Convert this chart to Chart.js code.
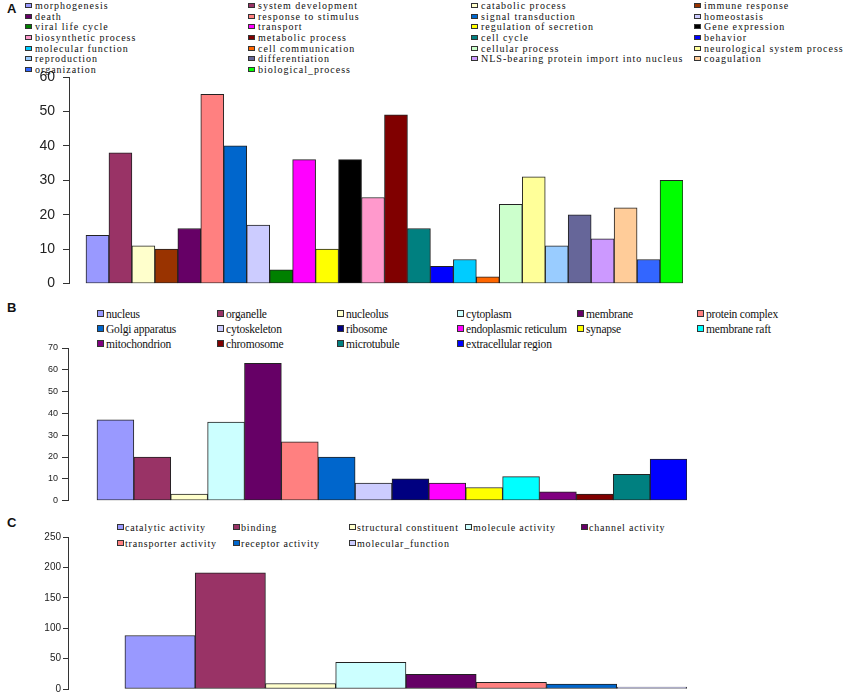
<!DOCTYPE html>
<html>
<head>
<meta charset="utf-8">
<script src="https://cdn.jsdelivr.net/npm/chart.js@4.4.0/dist/chart.umd.min.js"></script>
<style>
  body { margin: 0; width: 852px; height: 697px; overflow: hidden; background: #fff; position: relative; }
  .panel { position: absolute; }
  .letter { position: absolute; left: 7px; font: bold 13px "Liberation Sans", Arial, sans-serif; line-height: 13px; color: #111; }
  .legend { position: absolute; display: grid; color: #111; white-space: nowrap; }
  .legend .item { display: flex; align-items: center; }
  .legend .sw { display: inline-block; box-sizing: border-box; border: 1px solid #333; flex: none; }
  #legA { left: 25px; top: 0px; grid-template-columns: repeat(4, 223px); grid-auto-rows: 10.7px;
          font: 10px "Liberation Serif", serif; letter-spacing: 1px; }
  #legA .sw { width: 7px; height: 5px; margin-right: 3px; }
  #legB { left: 97px; top: 306px; grid-template-columns: repeat(6, 120px); grid-auto-rows: 15px;
          font: 11.5px "Liberation Serif", serif; letter-spacing: -0.2px; }
  #legB .sw { width: 7px; height: 7px; margin-right: 2px; }
  #legC { left: 117px; top: 519px; grid-template-columns: repeat(5, 116px); grid-auto-rows: 16.3px;
          font: 10px "Liberation Serif", serif; letter-spacing: 0.8px; }
  #legC .sw { width: 7px; height: 6px; margin-right: 1px; }
</style>
</head>
<body>
<div class="letter" style="top:2px">A</div>
<div class="letter" style="top:301px">B</div>
<div class="letter" style="top:516px">C</div>

<div id="legA" class="legend"></div>
<div id="legB" class="legend"></div>
<div id="legC" class="legend"></div>

<canvas id="chartA" class="panel" width="700" height="240" style="left:0;top:60px"></canvas>
<canvas id="chartB" class="panel" width="700" height="180" style="left:0;top:330px"></canvas>
<canvas id="chartC" class="panel" width="700" height="177" style="left:0;top:520px"></canvas>

<script>
// A - biological process
const bioLabels = ['morphogenesis', 'system development', 'catabolic process', 'immune response',
  'death', 'response to stimulus', 'signal transduction', 'homeostasis',
  'viral life cycle', 'transport', 'regulation of secretion', 'Gene expression',
  'biosynthetic process', 'metabolic process', 'cell cycle', 'behavior',
  'molecular function', 'cell communication', 'cellular process', 'neurological system process',
  'reproduction', 'differentiation', 'NLS-bearing protein import into nucleus', 'coagulation',
  'organization', 'biological_process'];
const bioValues = [14, 38, 11, 10, 16, 55, 40, 17, 4, 36, 10, 36, 25, 49, 16, 5, 7, 2, 23, 31, 11, 20, 13, 22, 7, 30];
const bioColors = ['#9999FF', '#993366', '#FFFFCC', '#993300', '#660066', '#FF8080', '#0066CC', '#CCCCFF',
  '#008000', '#FF00FF', '#FFFF00', '#000000', '#FF99CC', '#800000', '#008080', '#0000FF',
  '#00CCFF', '#FF6600', '#CCFFCC', '#FFFF99', '#99CCFF', '#666699', '#CC99FF', '#FFCC99',
  '#3366FF', '#00FF00'];

// B - cellular component
const cellLabels = ['nucleus', 'organelle', 'nucleolus', 'cytoplasm', 'membrane', 'protein complex',
  'Golgi apparatus', 'cytoskeleton', 'ribosome', 'endoplasmic reticulum', 'synapse', 'membrane raft',
  'mitochondrion', 'chromosome', 'microtubule', 'extracellular region'];
const cellValues = [37, 20, 3, 36, 63, 27, 20, 8, 10, 8, 6, 11, 4, 3, 12, 19];
const cellColors = ['#9999FF', '#993366', '#FFFFCC', '#CCFFFF', '#660066', '#FF8080',
  '#0066CC', '#CCCCFF', '#000080', '#FF00FF', '#FFFF00', '#00FFFF',
  '#800080', '#800000', '#008080', '#0000FF'];

// C - molecular function
const molLabels = ['catalytic activity', 'binding', 'structural constituent', 'molecule activity', 'channel activity',
  'transporter activity', 'receptor activity', 'molecular_function'];
const molValues = [88, 191, 9, 44, 24, 11, 8, 3];
const molColors = ['#9999FF', '#993366', '#FFFFCC', '#CCFFFF', '#660066', '#FF8080', '#0066CC', '#CCCCFF'];

// legend drawn as html grid so the columns line up like the original
const htmlLegend = {
  id: 'htmlLegend',
  afterUpdate(chart, args, opts) {
    const box = document.getElementById(opts.containerID);
    box.innerHTML = '';
    const ds = chart.data.datasets[0];
    chart.data.labels.forEach((lab, i) => {
      const item = document.createElement('div');
      item.className = 'item';
      const sw = document.createElement('span');
      sw.className = 'sw';
      sw.style.background = ds.backgroundColor[i];
      item.appendChild(sw);
      item.appendChild(document.createTextNode(lab));
      box.appendChild(item);
    });
  }
};

function makeChart(id, legendId, labels, values, colors, s) {
  return new Chart(document.getElementById(id), {
    type: 'bar',
    plugins: [htmlLegend],
    data: {
      labels: labels,
      datasets: [{
        data: values.map((v, i) => ({ x: i, y: v })),
        backgroundColor: colors,
        borderColor: '#222',
        borderWidth: 1,
        borderSkipped: false,
        barPercentage: 1,
        categoryPercentage: 1
      }]
    },
    options: {
      responsive: false,
      animation: false,
      events: [],
      layout: { padding: s.padding },
      plugins: {
        legend: { display: false },
        tooltip: { enabled: false },
        htmlLegend: { containerID: legendId }
      },
      scales: {
        x: {
          type: 'linear',
          display: false,
          offset: false,
          grid: { offset: false },
          min: -0.5 - s.gap,
          max: labels.length - 0.5,
          ticks: { stepSize: 1, includeBounds: false }
        },
        y: {
          min: 0,
          max: s.max,
          ticks: {
            stepSize: s.step,
            color: '#222',
            padding: s.tickPad,
            font: { family: 'Liberation Sans', size: s.fontSize }
          },
          grid: { drawOnChartArea: false, drawTicks: true, tickLength: s.tickLen, color: '#333' },
          border: { display: true, color: '#333', width: 1 },
          afterFit: scale => { scale.width = s.axisX; }
        }
      }
    }
  });
}

makeChart('chartA', 'legA', bioLabels, bioValues, bioColors,
  { max: 60, step: 10, gap: 0.74, axisX: 69, tickLen: 6, tickPad: 8, fontSize: 14,
    padding: { top: 17, bottom: 11, left: 0, right: 17 } });

makeChart('chartB', 'legB', cellLabels, cellValues, cellColors,
  { max: 70, step: 10, gap: 0.786, axisX: 68, tickLen: 6, tickPad: 4, fontSize: 9,
    padding: { top: 18, bottom: 9, left: 0, right: 13 } });

makeChart('chartC', 'legC', molLabels, molValues, molColors,
  { max: 250, step: 50, gap: 0.81, axisX: 68, tickLen: 5, tickPad: 2, fontSize: 10,
    padding: { top: 17, bottom: 6, left: 0, right: 13 } });
</script>
</body>
</html>
